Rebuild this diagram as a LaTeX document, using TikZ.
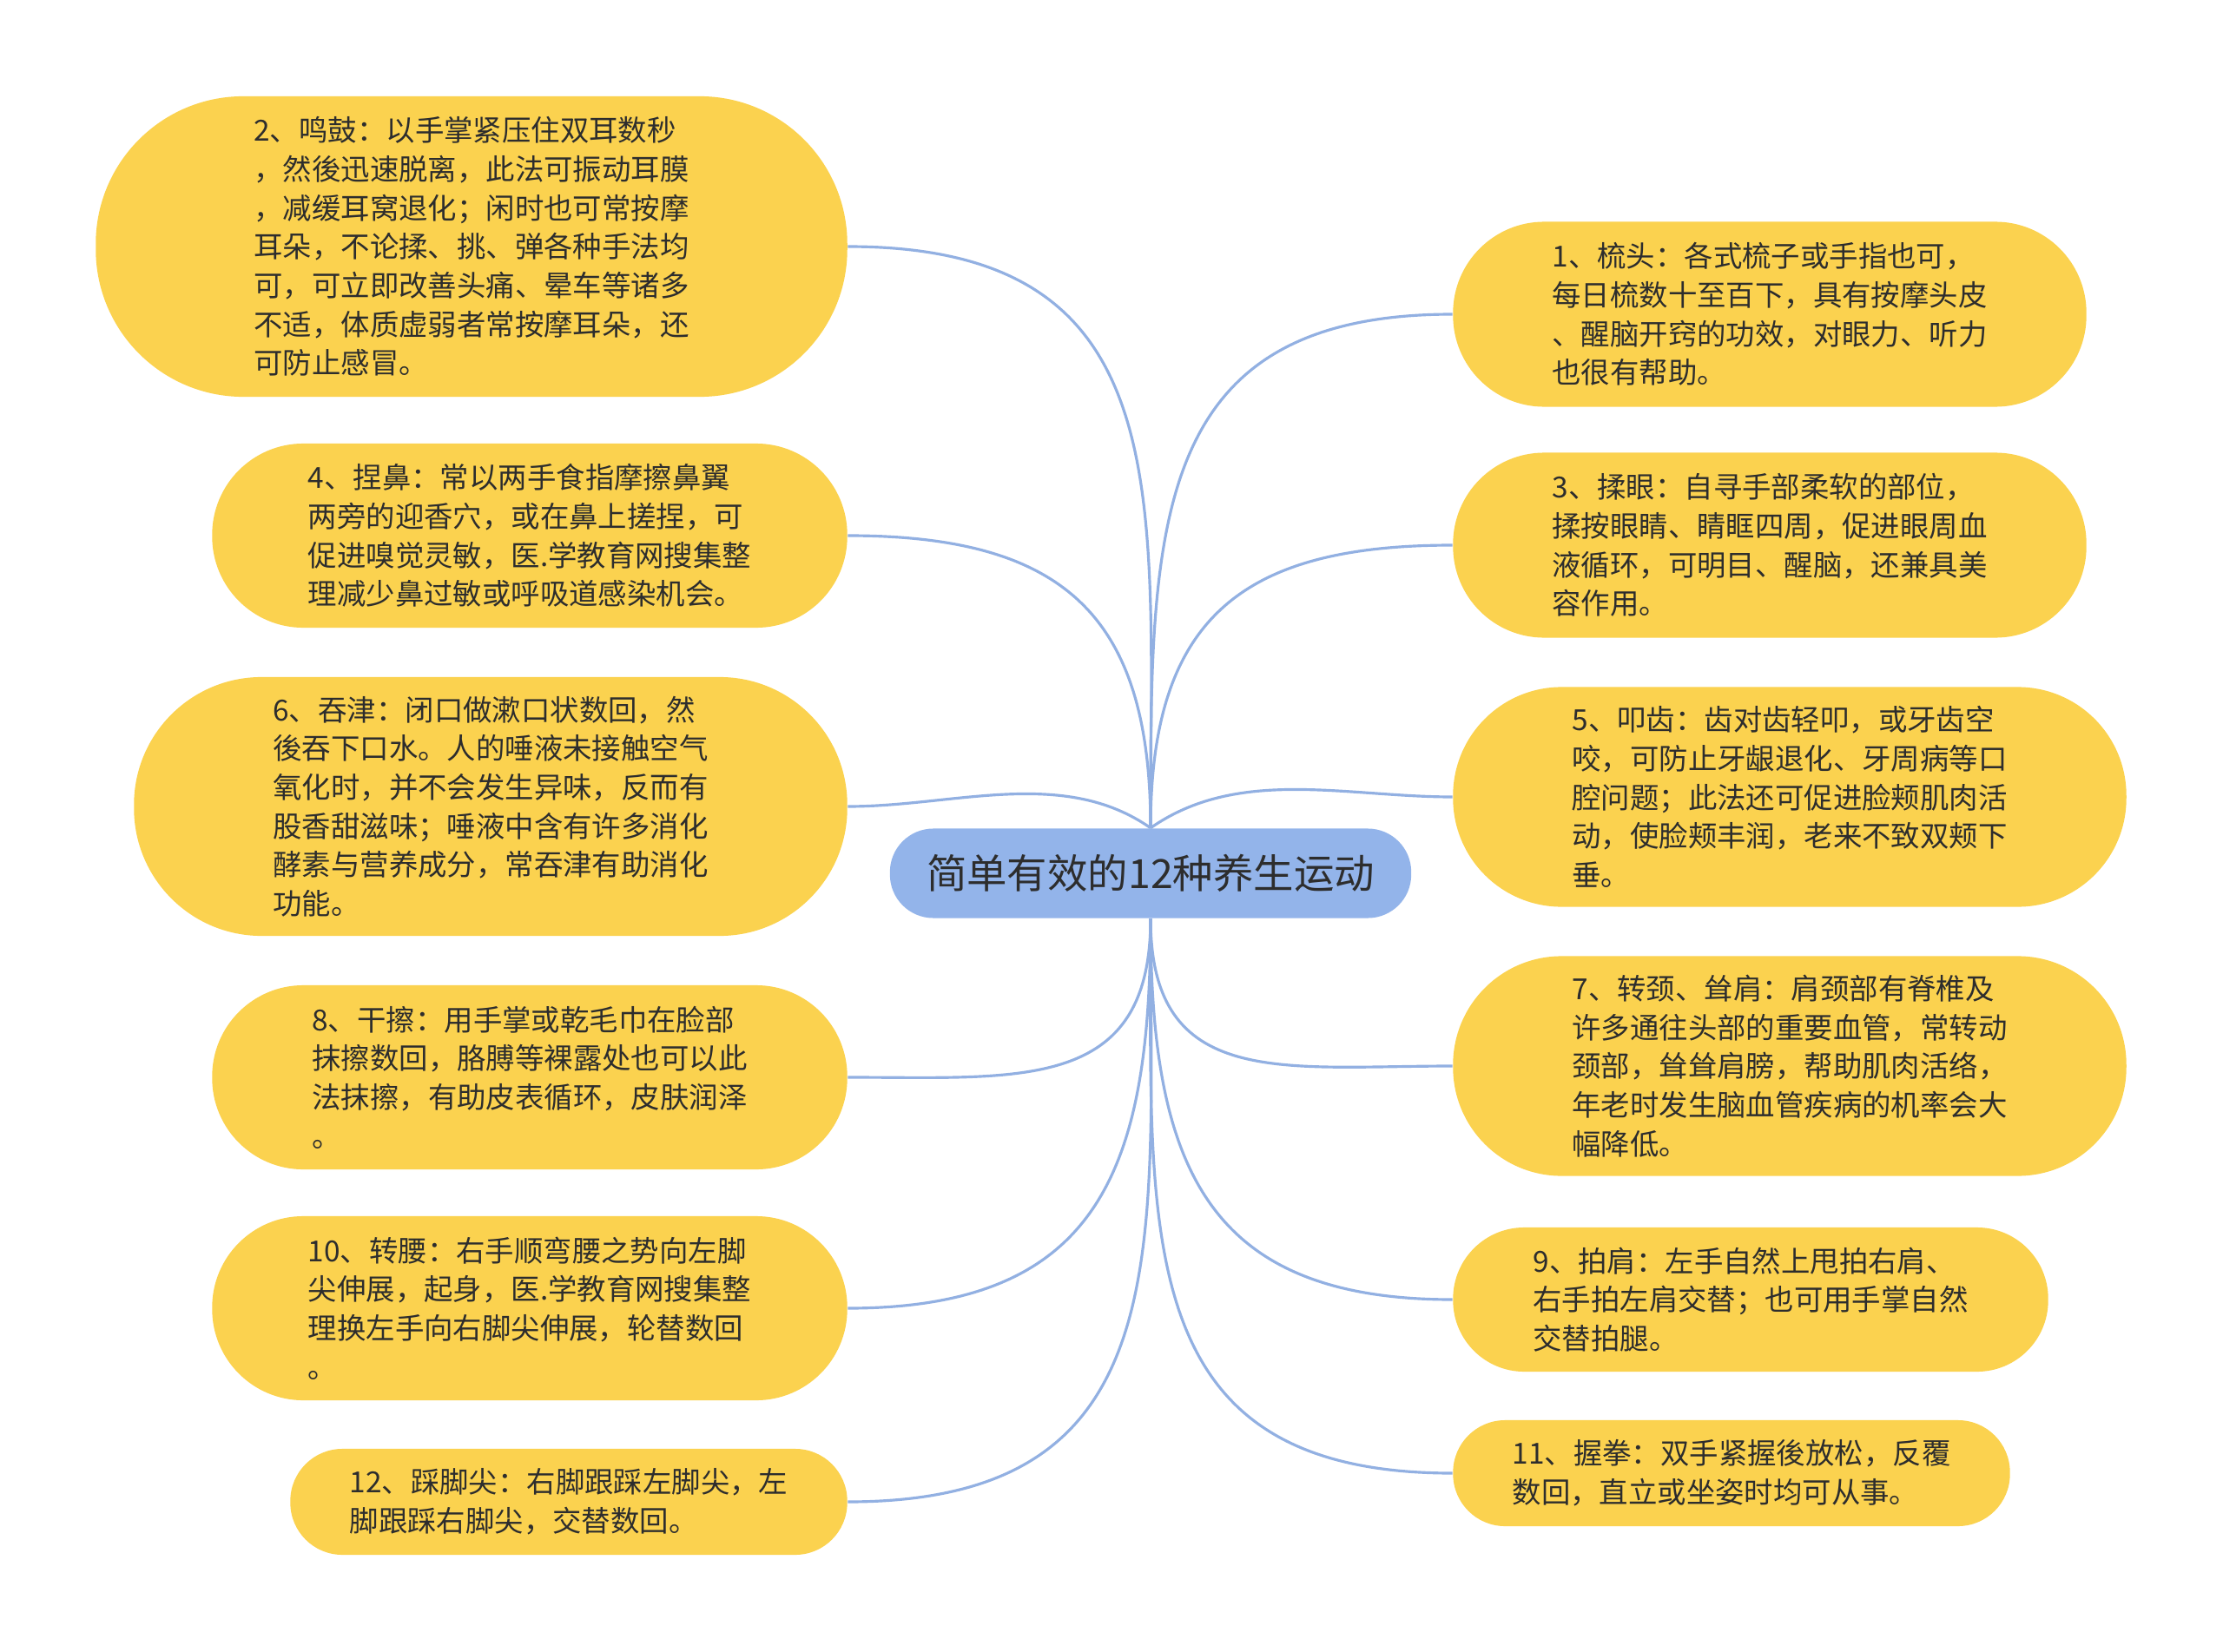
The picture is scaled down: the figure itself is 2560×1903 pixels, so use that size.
\documentclass[tikz,border=0pt]{standalone}
\usepackage{fontspec}
\setmainfont{Noto Sans CJK SC}
\usetikzlibrary{positioning}

\definecolor{leafyellow}{HTML}{FBD24F}
\definecolor{rootblue}{HTML}{93B4EA}
\definecolor{linkblue}{HTML}{92B0E2}
\definecolor{txtgray}{HTML}{2D2D2D}

\begin{document}
\begin{tikzpicture}[
x=0.01cm, y=-0.01cm,
leaf/.style={
        fill=leafyellow,
        text=txtgray,
        align=left,
        inner sep=0pt,
        font=\fontsize{9.5}{12.7}\selectfont,
    },
   root/.style = {
   fill=rootblue,
   text=txtgray,
   inner sep=0pt,
   minimum width=6cm,
   minimum height=1.03cm,
   rounded corners=0.5cm,
   font=\fontsize{13.2}{16}\selectfont,
   },
   link/.style = {draw=linkblue, line width=0.9pt, looseness=1.3},
 ]
\useasboundingbox[fill=white] (0,0) rectangle (2560,1903);

\node[root] (root) at (1325,1006) {简单有效的12种养生运动};

% left side
\node[leaf, minimum width=8.65cm, minimum height=3.46cm, rounded corners=1.7cm] (mingu) at (543,284)
  {2、鸣鼓：以手掌紧压住双耳数秒\\，然後迅速脱离，此法可振动耳膜\\，减缓耳窝退化；闲时也可常按摩\\耳朵，不论揉、挑、弹各种手法均\\可，可立即改善头痛、晕车等诸多\\不适，体质虚弱者常按摩耳朵，还\\可防止感冒。};
\node[leaf, minimum width=7.31cm, minimum height=2.12cm, rounded corners=1.05cm] (niebi) at (610,617)
  {4、捏鼻：常以两手食指摩擦鼻翼\\两旁的迎香穴，或在鼻上搓捏，可\\促进嗅觉灵敏，医.学教育网搜集整\\理减少鼻过敏或呼吸道感染机会。};
\node[leaf, minimum width=8.21cm, minimum height=2.98cm, rounded corners=1.47cm] (tunjin) at (565,929)
  {6、吞津：闭口做漱口状数回，然\\後吞下口水。人的唾液未接触空气\\氧化时，并不会发生异味，反而有\\股香甜滋味；唾液中含有许多消化\\酵素与营养成分，常吞津有助消化\\功能。};
\node[leaf, minimum width=7.31cm, minimum height=2.12cm, rounded corners=1.05cm] (ganca) at (610,1241)
  {8、干擦：用手掌或乾毛巾在脸部\\抹擦数回，胳膊等裸露处也可以此\\法抹擦，有助皮表循环，皮肤润泽\\。};
\node[leaf, minimum width=7.31cm, minimum height=2.12cm, rounded corners=1.05cm] (zhuanyao) at (610,1507)
  {10、转腰：右手顺弯腰之势向左脚\\尖伸展，起身，医.学教育网搜集整\\理换左手向右脚尖伸展，轮替数回\\。};
\node[leaf, minimum width=6.41cm, minimum height=1.22cm, rounded corners=0.6cm] (caijian) at (655,1730)
  {12、踩脚尖：右脚跟踩左脚尖，左\\脚跟踩右脚尖，交替数回。};

% right side
\node[leaf, minimum width=7.29cm, minimum height=2.13cm, rounded corners=1.05cm] (shutou) at (2038,362)
  {1、梳头：各式梳子或手指也可，\\每日梳数十至百下，具有按摩头皮\\、醒脑开窍的功效，对眼力、听力\\也很有帮助。};
\node[leaf, minimum width=7.29cm, minimum height=2.13cm, rounded corners=1.05cm] (rouyan) at (2038,628)
  {3、揉眼：自寻手部柔软的部位，\\揉按眼睛、睛眶四周，促进眼周血\\液循环，可明目、醒脑，还兼具美\\容作用。};
\node[leaf, minimum width=7.75cm, minimum height=2.53cm, rounded corners=1.25cm] (kouchi) at (2061,918)
  {5、叩齿：齿对齿轻叩，或牙齿空\\咬，可防止牙龈退化、牙周病等口\\腔问题；此法还可促进脸颊肌肉活\\动，使脸颊丰润，老来不致双颊下\\垂。};
\node[leaf, minimum width=7.75cm, minimum height=2.53cm, rounded corners=1.25cm] (zhuanjing) at (2061,1228)
  {7、转颈、耸肩：肩颈部有脊椎及\\许多通往头部的重要血管，常转动\\颈部，耸耸肩膀，帮助肌肉活络，\\年老时发生脑血管疾病的机率会大\\幅降低。};
\node[leaf, minimum width=6.85cm, minimum height=1.66cm, rounded corners=0.82cm] (paijian) at (2016,1497)
  {9、拍肩：左手自然上甩拍右肩、\\右手拍左肩交替；也可用手掌自然\\交替拍腿。};
\node[leaf, minimum width=6.41cm, minimum height=1.22cm, rounded corners=0.6cm] (woquan) at (1994,1697)
  {11、握拳：双手紧握後放松，反覆\\数回，直立或坐姿时均可从事。};

% connectors
\foreach \leafname in {mingu, niebi}
  \draw[link] (root.north) to[out=90, in=0] (\leafname.east);
\draw[link] (root.north) to[out=145, in=0, looseness=0.9] (tunjin.east);
\foreach \leafname in {ganca, zhuanyao, caijian}
  \draw[link] (root.south) to[out=-90, in=0] (\leafname.east);
\foreach \leafname in {shutou, rouyan}
  \draw[link] (root.north) to[out=90, in=180] (\leafname.west);
\draw[link] (root.north) to[out=35, in=180, looseness=0.9] (kouchi.west);
\foreach \leafname in {zhuanjing, paijian, woquan}
  \draw[link] (root.south) to[out=-90, in=180] (\leafname.west);
\end{tikzpicture}
\end{document}
